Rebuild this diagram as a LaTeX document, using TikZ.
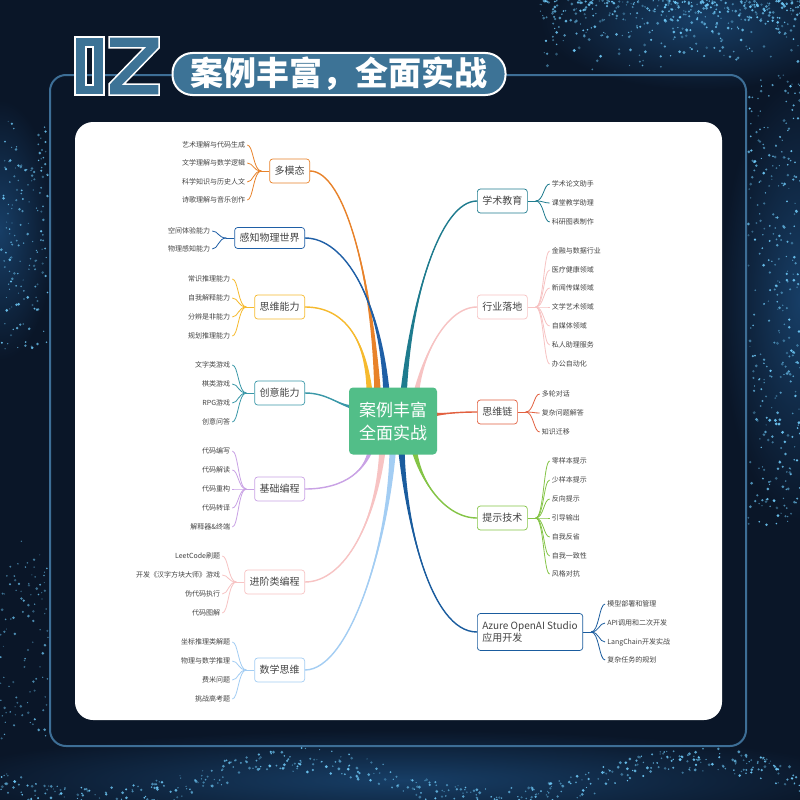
\documentclass[tikz,border=0pt]{standalone}
\usepackage{fontspec}
\setmainfont{Noto Sans CJK SC}
\usetikzlibrary{calc}
\definecolor{bgc}{HTML}{0A1628}
\definecolor{glowc}{HTML}{173E66}
\definecolor{framec}{HTML}{3D6E96}
\definecolor{titleb}{HTML}{3D7396}
\definecolor{dotc}{HTML}{6CC6F4}
\definecolor{cOrange}{HTML}{E8822A}
\definecolor{cBlue}{HTML}{1F5FA6}
\definecolor{cYellow}{HTML}{F6BA2E}
\definecolor{cTeal}{HTML}{3A98A8}
\definecolor{cPurple}{HTML}{C9A2E5}
\definecolor{cPink}{HTML}{F7C3C3}
\definecolor{cLBlue}{HTML}{A3CDF3}
\definecolor{cDTeal}{HTML}{1E7B8E}
\definecolor{cRed}{HTML}{E2603F}
\definecolor{cGreen}{HTML}{84C446}
\definecolor{cAzure}{HTML}{1A5C9E}
\definecolor{cGreenC}{HTML}{52BE88}
\definecolor{txt}{HTML}{444444}
\tikzset{
  mbox/.style={draw=#1, line width=0.7pt, fill=white, rounded corners=3pt, text=txt,
    font=\fontsize{10}{12}\selectfont, inner xsep=5pt, minimum height=24pt},
  leaf/.style={text=txt, font=\fontsize{7}{8}\selectfont, inner sep=1pt},
}
\newcommand\myleftgrp[4]{%
  \coordinate (#1s) at ($(#1.west)+(-8,0)$);
  \draw[#2,line width=0.8pt] (#1.west) -- (#1s);
  \foreach \leafy/\leaftext [count=\k] in {#4}{
    \node[leaf,anchor=east] (#1l\k) at ($(#1.west)+(-23,\leafy-#3)$) {\leaftext};
    \draw[#2,line width=0.8pt] (#1s) .. controls ($(#1s)+(-8,0)$) and ($(#1l\k.east)+(7,0)$) .. ($(#1l\k.east)+(1,0)$);
  }
}
\newcommand\myrightgrp[4]{%
  \coordinate (#1s) at ($(#1.east)+(8,0)$);
  \draw[#2,line width=0.8pt] (#1.east) -- (#1s);
  \foreach \leafy/\leaftext [count=\k] in {#4}{
    \node[leaf,anchor=west] (#1l\k) at ($(#1.east)+(23,\leafy-#3)$) {\leaftext};
    \draw[#2,line width=0.8pt] (#1s) .. controls ($(#1s)+(8,0)$) and ($(#1l\k.west)+(-7,0)$) .. ($(#1l\k.west)+(-1,0)$);
  }
}
\newcommand\mybranch[6]{%
  \fill[#1] (#2) .. controls (#3) and (#4) .. ($(#5)+(#6)$) -- ($(#5)-(#6)$) .. controls (#4) and (#3) .. (#2) -- cycle;
  \draw[#1,line width=1.4pt] (#2) .. controls (#3) and (#4) .. (#5);
}
\newcommand\mydots[7]{% count, x0, dx, y0, dy, rmax, opmax
  \foreach \i in {1,...,#1}{
    \pgfmathsetmacro\px{#2+#3*rnd}
    \pgfmathsetmacro\py{#4+#5*rnd}
    \pgfmathsetmacro\op{0.35+#7*rnd}
    \pgfmathsetmacro\rr{0.6+#6*rnd}
    \fill[dotc,opacity=\op] (\px,\py) circle (\rr);
  }
}
\begin{document}
\begin{tikzpicture}[x=1pt,y=-1pt]
\useasboundingbox (0,0) rectangle (800,800);
\fill[bgc] (0,0) rectangle (800,800);
% soft glows
\shade[inner color=glowc,outer color=bgc] (700,20) ellipse (160 and 70);
\shade[inner color=glowc,outer color=bgc] (800,300) ellipse (80 and 220);
\shade[inner color=glowc,outer color=bgc] (0,230) ellipse (55 and 130);
\shade[inner color=glowc,outer color=bgc] (400,780) ellipse (460 and 50);
% particles
\pgfmathsetseed{17}
\foreach \i in {1,...,420}{
  \pgfmathsetmacro\px{540+260*rnd}
  \pgfmathsetmacro\py{75*rnd*rnd}
  \pgfmathsetmacro\op{0.35+0.65*rnd}
  \pgfmathsetmacro\rr{0.6+1.0*rnd}
  \fill[dotc,opacity=\op] (\px,\py) circle (\rr);
}
\mydots{320}{748}{52}{75}{450}{1.0}{0.65}
\mydots{160}{0}{48}{120}{230}{0.9}{0.6}
\mydots{100}{0}{48}{540}{200}{0.9}{0.5}
\foreach \i in {1,...,520}{
  \pgfmathsetmacro\px{800*rnd}
  \pgfmathsetmacro\py{768+20*sin(\px*0.9)+24*rnd}
  \pgfmathsetmacro\op{0.35+0.65*rnd}
  \pgfmathsetmacro\rr{0.6+1.0*rnd}
  \fill[dotc,opacity=\op] (\px,\py) circle (\rr);
}
% frame and card
\draw[framec,line width=2pt,rounded corners=16pt] (50,75) rectangle (746,746);
\fill[white,rounded corners=18pt] (75,122) rectangle (722,720);
% title
\fill[titleb,draw=white,line width=1.5pt,even odd rule] (75,37) rectangle (104,95) (86,47) rectangle (93,85);
\fill[titleb,draw=white,line width=1.5pt] (109,37) -- (159,37) -- (159,48) -- (124,84) -- (159,84) -- (159,95) -- (109,95) -- (109,84) -- (144,48) -- (109,48) -- cycle;
\node[draw=white,line width=2pt,fill=titleb,rounded corners=20pt,minimum width=333pt,minimum height=42pt,
  text=white,font=\fontsize{33}{35}\selectfont\bfseries] (title) at (339,74) {案例丰富，全面实战};
% main nodes left
\node[mbox=cOrange,anchor=east] (m1) at (310,171) {多模态};
\node[mbox=cBlue,anchor=east,minimum height=21pt] (m2) at (305,238) {感知物理世界};
\node[mbox=cYellow,anchor=east] (m3) at (305,307) {思维能力};
\node[mbox=cTeal,anchor=east] (m4) at (305,393) {创意能力};
\node[mbox=cPurple,anchor=east] (m5) at (305,489) {基础编程};
\node[mbox=cPink,anchor=east] (m6) at (305,582) {进阶类编程};
\node[mbox=cLBlue,anchor=east] (m7) at (305,670) {数学思维};
% main nodes right
\node[mbox=cDTeal,anchor=west] (r1) at (477,201) {学术教育};
\node[mbox=cPink,anchor=west] (r2) at (477,307) {行业落地};
\node[mbox=cRed,anchor=west] (r3) at (477,412) {思维链};
\node[mbox=cGreen,anchor=west] (r4) at (477,518) {提示技术};
\node[mbox=cAzure,anchor=west,align=left,minimum height=37pt,minimum width=105pt] (r5) at (477,632) {Azure OpenAI Studio\\应用开发};
% leaves
\myleftgrp{m1}{cOrange}{171}{145/艺术理解与代码生成,163/文学理解与数学逻辑,182/科学知识与历史人文,200/诗歌理解与音乐创作}
\myleftgrp{m2}{cBlue}{238}{231/空间体验能力,249/物理感知能力}
\myleftgrp{m3}{cYellow}{307}{279/常识推理能力,298/自我解释能力,317/分辨是非能力,336/规划推理能力}
\myleftgrp{m4}{cTeal}{393}{365/文字类游戏,384/棋类游戏,403/RPG游戏,422/创意问答}
\myleftgrp{m5}{cPurple}{489}{451/代码编写,470/代码解读,489/代码重构,508/代码转译,527/解释器\&终端}
\myleftgrp{m6}{cPink}{582}{556/LeetCode刷题,575/开发《汉字方块大师》游戏,594/伪代码执行,613/代码图解}
\myleftgrp{m7}{cLBlue}{670}{642/坐标推理类解题,661/物理与数学推理,680/费米问题,699/挑战高考题}
\myrightgrp{r1}{cDTeal}{201}{184/学术论文助手,203/课堂教学助理,222/科研图表制作}
\myrightgrp{r2}{cPink}{307}{251/金融与数据行业,270/医疗健康领域,288/新闻传媒领域,307/文学艺术领域,326/自媒体领域,345/私人助理服务,364/办公自动化}
\myrightgrp{r3}{cRed}{412}{394/多轮对话,413/复杂问题解答,432/知识迁移}
\myrightgrp{r4}{cGreen}{518}{461/零样本提示,480/少样本提示,499/反向提示,518/引导输出,537/自我反省,556/自我一致性,574/风格对抗}
\myrightgrp{r5}{cAzure}{632}{604/模型部署和管理,623/API调用和二次开发,642/LangChain开发实战,660/复杂任务的规划}
% branches
\coordinate (c) at (393,421);
\coordinate (e1) at ($(c)+(-15,-20)$);
\coordinate (e2) at ($(c)+(-6,-20)$);
\coordinate (e3) at ($(c)+(-23,-20)$);
\coordinate (e4) at ($(c)+(-33,-13)$);
\coordinate (e5) at ($(c)+(-21,22)$);
\coordinate (e6) at ($(c)+(-10,22)$);
\coordinate (e7) at ($(c)+(0,22)$);
\coordinate (f1) at ($(c)+(10,-20)$);
\coordinate (f2) at ($(c)+(22,-20)$);
\coordinate (f3) at ($(c)+(35,-6)$);
\coordinate (f4) at ($(c)+(20,22)$);
\coordinate (f5) at ($(c)+(8,22)$);
\mybranch{cOrange}{m1.east}{345,171}{373,280}{e1}{3.5,0}
\mybranch{cBlue}{m2.east}{345,238}{382,300}{e2}{3.5,0}
\mybranch{cYellow}{m3.east}{345,307}{368,340}{e3}{3.5,0}
\mybranch{cTeal}{m4.east}{330,393}{340,408}{e4}{0,3}
\mybranch{cPurple}{m5.east}{345,489}{368,470}{e5}{3.5,0}
\mybranch{cPink}{m6.east}{345,582}{378,520}{e6}{3.5,0}
\mybranch{cLBlue}{m7.east}{350,670}{390,540}{e7}{3.5,0}
\mybranch{cDTeal}{r1.west}{440,201}{410,300}{f1}{3.5,0}
\mybranch{cPink}{r2.west}{445,307}{420,360}{f2}{3.5,0}
\mybranch{cRed}{r3.west}{455,412}{445,414}{f3}{0,3}
\mybranch{cGreen}{r4.west}{445,518}{418,480}{f4}{3.5,0}
\mybranch{cAzure}{r5.west}{430,632}{405,520}{f5}{3.5,0}
% center
\node[fill=cGreenC,rounded corners=4pt,minimum width=88pt,minimum height=67pt,align=center,
  text=white,font=\fontsize{17}{23}\selectfont] (cn) at (c) {案例丰富\\全面实战};
\end{tikzpicture}
\end{document}
